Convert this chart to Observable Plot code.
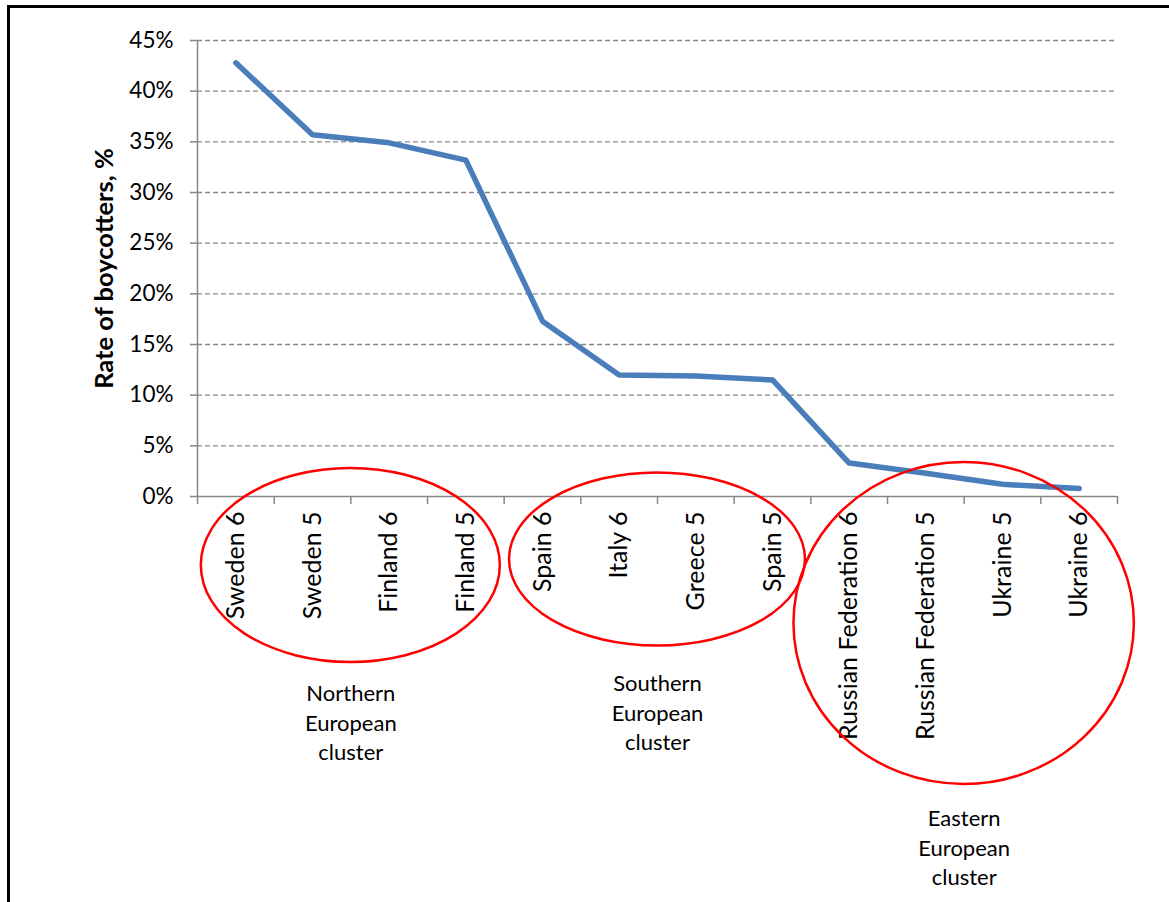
<!DOCTYPE html>
<html>
<head>
<meta charset="utf-8">
<script src="https://cdn.jsdelivr.net/npm/d3@7"></script>
<script src="https://cdn.jsdelivr.net/npm/@observablehq/plot@0.6"></script>
<style>
  html, body { margin: 0; padding: 0; background: #fff; }
  #wrap { position: relative; width: 1169px; height: 902px; overflow: hidden; }
  #frame { position: absolute; left: 7px; top: 5px; right: -10px; bottom: -10px;
           border-top: 3px solid #000; border-left: 3px solid #000; pointer-events: none; }
  svg { font-family: Lato, "Open Sans", sans-serif; }
</style>
</head>
<body>
<div id="wrap"><div id="chart"></div><div id="frame"></div></div>
<script>
// Countries (survey round) ordered by share of boycotters
const countries = [
  "Sweden 6", "Sweden 5", "Finland 6", "Finland 5",
  "Spain 6", "Italy 6", "Greece 5", "Spain 5",
  "Russian Federation 6", "Russian Federation 5", "Ukraine 5", "Ukraine 6"
];
const rates = [0.428, 0.357, 0.349, 0.332, 0.173, 0.120, 0.119, 0.115, 0.033, 0.023, 0.012, 0.008];
const yTicks = [0, 0.05, 0.10, 0.15, 0.20, 0.25, 0.30, 0.35, 0.40, 0.45];

// Regional clusters, each ringed around its four countries
const clusterNames = ["Northern\nEuropean\ncluster", "Southern\nEuropean\ncluster", "Eastern\nEuropean\ncluster"];
const clusterMembers = [[0, 3], [4, 7], [8, 11]];

// Ellipse and label geometry for the cluster annotations (x in category units, y in px below the baseline)
const ringSpec = [
  {rx: 1.95, dy: 69, ry: 97, labelDy: 184},
  {rx: 1.93, dy: 63, ry: 86.5, labelDy: 174},
  {rx: 2.22, dy: 127, ry: 161, labelDy: 309}
];

const data = countries.map((c, i) => ({country: c, pos: i + 0.5, rate: rates[i]}));
const clusters = clusterNames.map((name, k) => ({
  name,
  cx: (clusterMembers[k][0] + clusterMembers[k][1] + 1) / 2,
  ...ringSpec[k]
}));

const gray = "#868686";

function rings(index, scales) {
  const g = d3.create("svg:g");
  const y0 = scales.y(0);
  for (const c of clusters) {
    const cx = scales.x(c.cx);
    const rx = scales.x(c.cx + c.rx) - cx;
    g.append("ellipse")
      .attr("cx", cx).attr("cy", y0 + c.dy)
      .attr("rx", rx).attr("ry", c.ry)
      .attr("fill", "none").attr("stroke", "#ff0000").attr("stroke-width", 2.5);
  }
  return g.node();
}

const chart = Plot.plot({
  width: 1169,
  height: 902,
  marginLeft: 197,
  marginRight: 52,
  marginTop: 40,
  marginBottom: 406,
  style: {fontFamily: "Lato, 'Open Sans', sans-serif", background: "transparent"},
  x: {domain: [0, countries.length], axis: null},
  y: {domain: [0, 0.45], axis: null, label: null},
  marks: [
    Plot.gridY(yTicks.slice(1), {stroke: gray, strokeOpacity: 1, strokeWidth: 1.3, strokeDasharray: "5,3"}),
    Plot.axisY(yTicks, {
      tickFormat: d3.format(".0%"), tickSize: 7, tickPadding: 17, label: null,
      stroke: gray, strokeWidth: 1.5, fontSize: 22.5, fill: "#000"
    }),
    Plot.axisX(d3.range(countries.length + 1), {
      tickFormat: () => "", tickSize: 8, label: null, stroke: gray, strokeWidth: 1.5
    }),
    Plot.ruleX([0], {stroke: gray, strokeWidth: 1.5}),
    Plot.ruleY([0], {stroke: gray, strokeWidth: 1.5}),
    Plot.line(data, {
      x: "pos", y: "rate", stroke: "#4a7ebb", strokeWidth: 5.5,
      strokeLinejoin: "round", strokeLinecap: "round"
    }),
    Plot.text(data, {
      x: "pos", y: () => 0, text: "country", rotate: -90,
      textAnchor: "end", lineAnchor: "middle", dy: 15, fontSize: 25, fill: "#000"
    }),
    Plot.text(["Rate of boycotters, %"], {
      frameAnchor: "left", rotate: -90, dx: -93, fontSize: 25.5,
      fontWeight: "bold", fill: "#000", textAnchor: "middle", lineAnchor: "middle"
    }),
    rings,
    ...clusters.map(c => Plot.text([c], {
      x: "cx", y: () => 0, text: "name", lineAnchor: "top", dy: c.labelDy,
      fontSize: 22, lineHeight: 1.33, fill: "#000"
    }))
  ]
});

document.getElementById("chart").appendChild(chart);
</script>
</body>
</html>
